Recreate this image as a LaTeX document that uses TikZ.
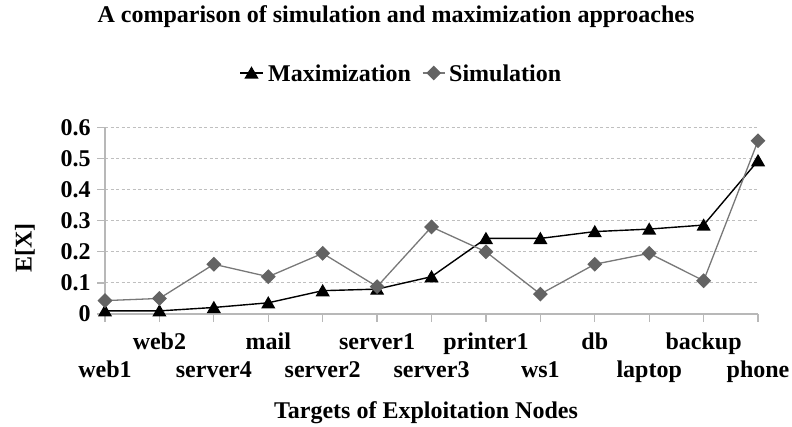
\documentclass[tikz,border=0pt]{standalone}
\usepackage{fontspec}
\setmainfont{Liberation Serif}
\usetikzlibrary{calc}
\usetikzlibrary{plotmarks}

\begin{document}
\begin{tikzpicture}[x=1pt,y=1pt]
	\tikzset{lbl/.style={font=\fontsize{24}{28}\selectfont\bfseries,inner sep=0pt}}
	\tikzset{gridline/.style={draw=black!25,line width=1pt,dash pattern=on 3pt off 2.5pt}}
	\tikzset{axisline/.style={draw=black!28,line width=1.3pt}}
	\tikzset{maxline/.style={draw=black,line width=1.4pt,mark=triangle*,mark size=6.8pt,mark options={solid,fill=black,yshift=-1.5pt}}}
	\tikzset{simline/.style={draw=black!53,line width=1.3pt,mark=square*,mark size=4.6pt,mark options={solid,rotate=45,fill=black!61,draw=black!61}}}
	\useasboundingbox (0,0) rectangle (792,426);
	\pgfmathsetmacro{\Ox}{105};
	\pgfmathsetmacro{\Oy}{112};
	\pgfmathsetmacro{\dx}{54.42};
	\pgfmathsetmacro{\sy}{311};
	
	\node[lbl,anchor=base] (title) at (396,403) {A comparison of simulation and maximization approaches};
	
	\coordinate (lmA) at (240,353);
	\coordinate (lmB) at (263,353);
	\coordinate (lmC) at ($(lmA)!0.5!(lmB)$);
	\coordinate (lsA) at (422.5,353);
	\coordinate (lsB) at (445,353);
	\coordinate (lsC) at ($(lsA)!0.5!(lsB)$);
	\draw[maxline] (lmA) -- (lmB);
	\path[maxline] plot coordinates {(lmC)};
	\node[lbl,anchor=base west] (legmax) at (268,344.5) {Maximization};
	\draw[simline] (lsA) -- (lsB);
	\path[simline] plot coordinates {(lsC)};
	\node[lbl,anchor=base west] (legsim) at (449,344.5) {Simulation};
	
	\node[lbl,rotate=90] (ylab) at (25,178) {E[X]};
	\node[lbl,anchor=base] (xlab) at (426,8) {Targets of Exploitation Nodes};
	
	\begin{scope}[shift={(\Ox,\Oy)},x=\dx pt,y=\sy pt]
		\foreach \v in {0.1,0.2,0.3,0.4,0.5,0.6}
			\draw[gridline] (0,\v) -- (12,\v);
		\draw[axisline] (0,0) -- (0,0.6);
		\draw[axisline] ([xshift=-8pt]0,0) -- (12,0);
		\foreach \v [count=\k from 0] in {0,0.1,0.2,0.3,0.4,0.5,0.6} {
			\draw[axisline] (0,\v) -- ++(-8pt,0);
			\node[lbl,anchor=east,xshift=-14.3pt] (y\k) at (0,\v) {\v};
		}
		\foreach \n [count=\i from 0] in {web1,web2,server4,mail,server2,server1,server3,printer1,ws1,db,laptop,backup,phone} {
			\draw[axisline] (\i,0) -- ++(0,-8pt);
			\ifodd\i
				\node[lbl,anchor=base,yshift=-35pt] (c\i) at (\i,0) {\n};
			\else
				\node[lbl,anchor=base,yshift=-63pt] (c\i) at (\i,0) {\n};
			\fi
		}
		
		\draw[maxline] plot coordinates {(0,0.01) (1,0.01) (2,0.021) (3,0.036) (4,0.075) (5,0.08) (6,0.12) (7,0.243) (8,0.243) (9,0.265) (10,0.273) (11,0.286) (12,0.493)};
		\draw[simline] plot coordinates {(0,0.043) (1,0.05) (2,0.16) (3,0.12) (4,0.195) (5,0.088) (6,0.28) (7,0.2) (8,0.064) (9,0.16) (10,0.195) (11,0.107) (12,0.557)};
	\end{scope}
\end{tikzpicture}
\end{document}
